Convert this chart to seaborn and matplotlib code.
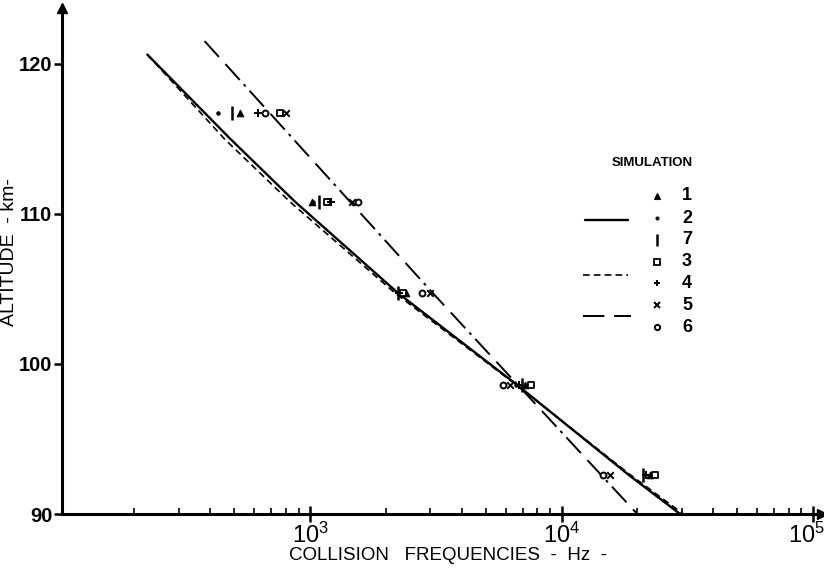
import numpy as np
import pandas as pd
import matplotlib
matplotlib.use("Agg")
import matplotlib.pyplot as plt
import matplotlib.transforms as mtransforms
import seaborn as sns
from matplotlib.lines import Line2D
from matplotlib.ticker import LogLocator, FixedLocator, NullFormatter

# ---------------- data ----------------
altitudes = [116.7, 110.8, 104.7, 98.6, 92.6]
sim_labels = ["1", "2", "7", "3", "4", "5", "6"]
sim1 = [527, 1018, 2410, 7160, 22500]
sim2 = [430, 1030, 2300, 6590, 21400]
sim7 = [490, 1086, 2240, 6960, 21100]
sim3 = [760, 1169, 2340, 7570, 23600]
sim4 = [621, 1215, 2260, 6780, 21700]
sim5 = [803, 1469, 3000, 6240, 15600]
sim6 = [662, 1552, 2785, 5850, 14600]

solid_alt = [120.6, 115.0, 110.8, 104.7, 98.6, 92.6, 90.0]
solid_freq = [225, 480, 870, 2240, 6650, 18500, 29600]
dashed_alt = [120.6, 115.0, 110.8, 104.7, 98.6, 92.6, 90.0]
dashed_freq = [225, 455, 830, 2180, 6600, 18800, 30500]
dashdot_alt = [121.5, 104.7, 90.0]
dashdot_freq = [380, 3080, 20000]

x_ticks = [1e3, 1e4, 1e5]
x_tick_labels = [r"$10^{3}$", r"$10^{4}$", r"$10^{5}$"]
y_ticks = [90, 100, 110, 120]

# ---------------- style ----------------
sns.set_theme(style="ticks")
FONT = ["Liberation Sans", "DejaVu Sans"]
plt.rcParams["font.family"] = FONT
plt.rcParams["mathtext.fontset"] = "custom"
plt.rcParams["mathtext.rm"] = "Liberation Sans"
plt.rcParams["mathtext.it"] = "Liberation Sans"
plt.rcParams["mathtext.bf"] = "Liberation Sans:bold"
for k in ["text.color", "axes.labelcolor", "xtick.color", "ytick.color", "axes.edgecolor"]:
    plt.rcParams[k] = "black"

fig = plt.figure(figsize=(8.24, 5.70), dpi=100)
ax = fig.add_axes([62 / 824, 1 - 514 / 570, (822 - 62) / 824, (514 - 8) / 570])

DASHED = (0, (4, 2.5))
DASHDOT = (0, (11, 5, 11, 3, 1.5, 3))

# curves
sol_df = pd.DataFrame({"freq": solid_freq, "alt": solid_alt})
das_df = pd.DataFrame({"freq": dashed_freq, "alt": dashed_alt})
dd_df = pd.DataFrame({"freq": dashdot_freq, "alt": dashdot_alt})
sns.lineplot(data=sol_df, x="freq", y="alt", sort=False, estimator=None,
             color="black", lw=1.7, ax=ax)
sns.lineplot(data=das_df, x="freq", y="alt", sort=False, estimator=None,
             color="black", lw=1.2, ax=ax, linestyle=DASHED)
sns.lineplot(data=dd_df, x="freq", y="alt", sort=False, estimator=None,
             color="black", lw=1.4, ax=ax, linestyle=DASHDOT)

# markers
sims = {"1": sim1, "2": sim2, "7": sim7, "3": sim3, "4": sim4, "5": sim5, "6": sim6}
marker_style = {
    "1": dict(marker="^", s=22, facecolor="black", edgecolor="black", linewidth=0.8),
    "2": dict(marker="o", s=7, facecolor="black", edgecolor="black", linewidth=0.5),
    "7": dict(marker="|", s=90, color="black", linewidth=1.8),
    "3": dict(marker="s", s=18, facecolor="white", edgecolor="black", linewidth=1.3),
    "4": dict(marker="+", s=30, color="black", linewidth=1.4),
    "5": dict(marker="x", s=22, color="black", linewidth=1.4),
    "6": dict(marker="o", s=18, facecolor="white", edgecolor="black", linewidth=1.4),
}
for lab in sim_labels:
    df = pd.DataFrame({"freq": sims[lab], "alt": altitudes})
    sns.scatterplot(data=df, x="freq", y="alt", ax=ax, zorder=3, **marker_style[lab])

# axes
ax.set_xscale("log")
ax.set_xlim(103, 1.086e5)
ax.set_ylim(90, 123.7)
for s in ["top", "right"]:
    ax.spines[s].set_visible(False)
for s in ["left", "bottom"]:
    ax.spines[s].set_linewidth(2.2)

ax.xaxis.set_major_locator(FixedLocator(x_ticks))
ax.xaxis.set_minor_locator(LogLocator(base=10, subs=np.arange(2, 10)))
ax.xaxis.set_minor_formatter(NullFormatter())
ax.set_xticks(x_ticks)
ax.set_xticklabels(x_tick_labels)
ax.set_yticks(y_ticks)
ax.set_yticklabels([str(v) for v in y_ticks])
ax.tick_params(axis="x", which="major", direction="inout", length=12, width=1.8,
               labelsize=17, pad=0)
ax.tick_params(axis="x", which="minor", direction="in", length=4, width=1.2)
ax.tick_params(axis="y", which="major", direction="out", length=6, width=1.8,
               labelsize=14.5, pad=1)
for t in ax.get_yticklabels():
    t.set_fontweight("bold")
# nudge the last x tick label left so it stays inside the figure
last = ax.get_xticklabels()[-1]
last.set_transform(last.get_transform() +
                   mtransforms.ScaledTranslation(-7 / 100, 0, fig.dpi_scale_trans))

ax.set_xlabel("COLLISION   FREQUENCIES  -  Hz  -", fontsize=13.5)
ax.set_ylabel("ALTITUDE  - km-", fontsize=14)
ax.xaxis.set_label_coords((448 - 62) / 760, -(547 - 514) / 506)
ax.yaxis.set_label_coords(-(62 - 18) / 760, (514 - 252) / 506)

# arrows at axis ends
ax.plot([0], [1], marker="^", ms=7, color="black", transform=ax.transAxes, clip_on=False)
ax.plot([1], [0], marker=">", ms=7, color="black", transform=ax.transAxes, clip_on=False)

# legend (drawn in figure pixel coordinates)
def fx(px):
    return px / 824
def fy(py):
    return 1 - py / 570

fig.text(fx(652), fy(163), "SIMULATION", fontsize=9.5, ha="center", va="center",
         fontweight="bold")
row_y = [196, 218, 240, 262, 283, 305, 327]
for lab, yy in zip(sim_labels, row_y):
    st = dict(marker_style[lab])
    m = st.pop("marker")
    s = st.pop("s")
    lw = st.pop("linewidth")
    fc = st.pop("facecolor", st.get("color", "black"))
    ec = st.pop("edgecolor", st.get("color", "black"))
    fig.add_artist(Line2D([fx(657)], [fy(yy)], marker=m, ms=np.sqrt(s) * 0.9,
                          markerfacecolor=fc, markeredgecolor=ec, mew=lw,
                          linestyle="none"))
    fig.text(fx(687), fy(yy), lab, fontsize=13, ha="center", va="center", fontweight="bold")

fig.add_artist(Line2D([fx(585), fx(628)], [fy(220), fy(220)], color="black", lw=1.7))
fig.add_artist(Line2D([fx(583), fx(628)], [fy(275), fy(275)], color="black", lw=1.2,
                      linestyle=DASHED))
fig.add_artist(Line2D([fx(583), fx(631)], [fy(316), fy(316)], color="black", lw=1.4,
                      linestyle=DASHDOT))

fig.savefig("out.png", dpi=100, facecolor="white")
